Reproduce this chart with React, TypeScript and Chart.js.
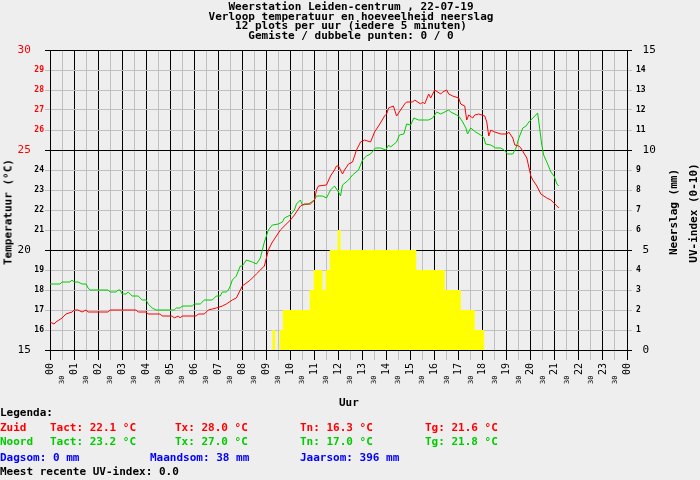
import { useEffect, useRef } from "react";
import { Chart, registerables } from "chart.js";
Chart.register(...registerables);

// minutes since midnight, temperature in °C
const zuidTimes = [
  0, 10, 15, 30, 40, 55, 60, 70, 80, 90, 95, 145, 150, 215, 220, 240, 245, 275, 280, 305,
  310, 320, 325, 330, 365, 370, 385, 390, 395, 415, 430, 440, 455, 465, 470, 480, 500, 515,
  525, 535, 540, 545, 555, 565, 575, 600, 610, 625, 635, 650, 660, 665, 670, 690, 700, 710,
  715, 720, 730, 735, 745, 755, 765, 775, 785, 800, 810, 820, 835, 840, 845, 857, 865, 875,
  885, 890, 905, 910, 925, 930, 935, 945, 950, 960, 975, 980, 990, 995, 1005, 1020, 1025,
  1035, 1040, 1045, 1055, 1060, 1070, 1085, 1090, 1095, 1100, 1110, 1125, 1140, 1145, 1155,
  1160, 1170, 1175, 1190, 1200, 1205, 1215, 1225, 1240, 1250, 1260, 1270,
];
const zuidTemps = [
  16.4, 16.3, 16.4, 16.6, 16.8, 16.9, 17.0, 17.0, 16.9, 17.0, 16.9, 16.9, 17.0, 17.0, 16.9,
  16.9, 16.8, 16.8, 16.7, 16.7, 16.6, 16.7, 16.6, 16.7, 16.7, 16.8, 16.8, 16.9, 17.0, 17.1,
  17.2, 17.3, 17.5, 17.6, 17.8, 18.2, 18.5, 18.8, 19.0, 19.2, 19.6, 20.0, 20.4, 20.7, 21.0,
  21.5, 21.75, 22.2, 22.3, 22.3, 22.5, 23.0, 23.2, 23.25, 23.7, 24.0, 24.2, 24.2, 23.8, 24.0,
  24.3, 24.4, 25.0, 25.4, 25.5, 25.4, 25.9, 26.2, 26.7, 26.8, 27.1, 27.2, 26.7, 27.0, 27.3,
  27.4, 27.4, 27.5, 27.3, 27.4, 27.3, 27.8, 27.6, 28.0, 27.8, 27.9, 28.0, 27.8, 27.7, 27.6,
  27.3, 27.2, 26.5, 26.75, 26.6, 26.75, 26.8, 26.7, 26.4, 25.7, 26.0, 25.9, 25.8, 25.8, 25.9,
  25.6, 25.25, 25.2, 25.1, 24.6, 23.7, 23.5, 23.2, 22.8, 22.6, 22.5, 22.3, 22.1,
];

const noordTimes = [
  0, 25, 30, 50, 55, 60, 70, 80, 90, 95, 100, 145, 150, 165, 170, 175, 180, 190, 195, 205,
  220, 230, 240, 245, 255, 265, 310, 315, 325, 330, 355, 360, 375, 385, 405, 415, 425, 430,
  440, 445, 450, 455, 465, 475, 480, 490, 505, 515, 525, 535, 540, 545, 555, 570, 580, 585,
  600, 610, 615, 625, 630, 645, 660, 665, 680, 690, 700, 710, 720, 725, 730, 745, 755, 770,
  780, 790, 800, 812, 825, 838, 845, 850, 865, 872, 883, 890, 900, 908, 920, 935, 945, 955,
  965, 975, 995, 1000, 1015, 1020, 1030, 1038, 1042, 1050, 1062, 1075, 1083, 1087, 1100,
  1112, 1125, 1133, 1142, 1155, 1163, 1170, 1180, 1188, 1195, 1205, 1210, 1217, 1220, 1227,
  1232, 1242, 1250, 1258, 1265, 1270,
];
const noordTemps = [
  18.3, 18.3, 18.4, 18.4, 18.5, 18.4, 18.4, 18.3, 18.3, 18.1, 18.0, 18.0, 17.9, 17.9, 18.0,
  18.0, 17.8, 17.8, 17.9, 17.7, 17.7, 17.5, 17.5, 17.3, 17.1, 17.0, 17.0, 17.1, 17.1, 17.2,
  17.2, 17.3, 17.3, 17.5, 17.5, 17.7, 17.7, 17.9, 17.9, 18.0, 18.2, 18.5, 18.7, 19.2, 19.2,
  19.5, 19.4, 19.3, 19.6, 20.4, 20.7, 21.0, 21.25, 21.3, 21.4, 21.6, 21.75, 22.0, 22.3, 22.5,
  22.25, 22.3, 22.5, 22.7, 22.7, 22.6, 23.0, 23.2, 22.9, 22.7, 23.25, 23.5, 23.75, 24.0, 24.5,
  24.7, 24.8, 25.1, 25.1, 25.0, 25.25, 25.15, 25.4, 25.75, 25.8, 26.3, 26.25, 26.6, 26.5,
  26.5, 26.5, 26.6, 26.9, 26.8, 27.0, 26.9, 26.75, 26.7, 26.4, 26.1, 25.8, 26.1, 25.9, 25.75,
  25.6, 25.3, 25.25, 25.1, 25.1, 25.0, 24.8, 24.8, 25.1, 25.6, 26.1, 26.2, 26.4, 26.6, 26.7,
  26.85, 26.4, 25.3, 24.75, 24.3, 23.9, 23.7, 23.3, 23.2,
];

// UV-index, each level holds from its start minute until the next one
const uvTimes = [0, 555, 562, 573, 581, 648, 658, 680, 688, 698, 718, 725, 914, 985, 1025, 1060, 1084];
const uvLevels = [0, 1, 0, 1, 2, 3, 4, 3, 4, 5, 6, 5, 4, 3, 2, 1, 0];

const hourLabels = [
  "00", "01", "02", "03", "04", "05", "06", "07", "08", "09", "10", "11", "12",
  "13", "14", "15", "16", "17", "18", "19", "20", "21", "22", "23", "00",
];

const titleLines = [
  "Weerstation Leiden-centrum , 22-07-19",
  "Verloop temperatuur en hoeveelheid neerslag",
  "12 plots per uur (iedere 5 minuten)",
  "Gemiste / dubbele punten: 0 / 0",
];

const stations = ["Zuid", "Noord"];
const stationColors = ["#ff0000", "#00cc00"];
const tact = ["22.1", "23.2"];
const tx = ["28.0", "27.0"];
const tn = ["16.3", "17.0"];
const tg = ["21.6", "21.8"];
const rainDay = "0";
const rainMonth = "38";
const rainYear = "396";
const uvRecent = "0.0";

const MONO = "DejaVu Sans Mono";
const GRAY = "#c0c0c0";

function WeatherChart() {
  const chartRef = useRef<HTMLCanvasElement | null>(null);
  const chartInstance = useRef<Chart | null>(null);

  useEffect(() => {
    const ctx = chartRef.current?.getContext("2d");
    if (chartInstance.current) {
      chartInstance.current.destroy();
    }
    if (ctx) {
      chartInstance.current = new Chart(ctx, {
        type: "line",
        data: {
          datasets: [
            {
              label: "Zuid",
              data: zuidTimes.map((t, i) => ({ x: t, y: zuidTemps[i] })),
              borderColor: "#ff0000",
              borderWidth: 1,
              pointRadius: 0,
              yAxisID: "y",
            },
            {
              label: "Noord",
              data: noordTimes.map((t, i) => ({ x: t, y: noordTemps[i] })),
              borderColor: "#00cc00",
              borderWidth: 1,
              pointRadius: 0,
              yAxisID: "y",
            },
            {
              label: "UV",
              data: uvTimes.map((t, i) => ({ x: t, y: uvLevels[i] })),
              // chart.js "before": the value of a point is kept until the next point
              stepped: "before",
              fill: "origin",
              backgroundColor: "#ffff00",
              borderColor: "#ffff00",
              borderWidth: 0,
              pointRadius: 0,
              yAxisID: "y2",
            },
          ],
        },
        options: {
          animation: false,
          responsive: true,
          maintainAspectRatio: false,
          layout: { padding: { top: 50, left: 0, right: 0, bottom: 0 } },
          plugins: {
            legend: { display: false },
            tooltip: { enabled: false },
          },
          scales: {
            x: {
              type: "linear",
              min: 0,
              max: 1440,
              afterFit: (scale: any) => {
                scale.height = 130;
              },
              grid: {
                color: (c: any) => (c.tick && c.tick.value % 60 === 0 ? "#000" : GRAY),
                tickLength: 10,
              },
              border: { color: "#000" },
              ticks: {
                stepSize: 30,
                autoSkip: false,
                minRotation: 90,
                maxRotation: 90,
                padding: 3,
                color: "#000",
                font: (c: any) =>
                  c.tick && c.tick.value % 60 === 0
                    ? { family: MONO, size: 10 }
                    : { family: MONO, size: 7 },
                callback: (v: any) => {
                  const n = Number(v);
                  return n % 60 === 0 ? hourLabels[n / 60] : "30   ";
                },
              },
            },
            y: {
              position: "left",
              min: 15,
              max: 30,
              afterFit: (scale: any) => {
                scale.width = 50;
              },
              grid: {
                color: (c: any) => (c.tick && c.tick.value % 5 === 0 ? "#000" : GRAY),
                tickLength: 5,
              },
              border: { color: "#000" },
              ticks: {
                stepSize: 1,
                padding: 1,
                color: (c: any) => (c.tick && c.tick.value >= 25 ? "#ff0000" : "#000"),
                font: (c: any) =>
                  c.tick && c.tick.value % 5 === 0
                    ? { family: MONO, size: 11 }
                    : { family: MONO, size: 8, weight: "bold" },
                callback: (v: any) => (Number(v) % 5 === 0 ? v + "  " : String(v)),
              },
            },
            y2: {
              position: "right",
              min: 0,
              max: 15,
              afterFit: (scale: any) => {
                scale.width = 73;
              },
              grid: {
                drawOnChartArea: false,
                color: (c: any) => (c.tick && c.tick.value % 5 === 0 ? "#000" : GRAY),
                tickLength: 5,
              },
              border: { color: "#000" },
              ticks: {
                stepSize: 1,
                padding: 4,
                color: "#000",
                font: (c: any) =>
                  c.tick && c.tick.value % 5 === 0
                    ? { family: MONO, size: 11 }
                    : { family: MONO, size: 8, weight: "bold" },
                callback: (v: any) => (Number(v) % 5 === 0 ? " " + v : String(v)),
              },
            },
          },
        },
      });
    }
    return () => {
      if (chartInstance.current) {
        chartInstance.current.destroy();
        chartInstance.current = null;
      }
    };
  }, []);

  return <canvas ref={chartRef} />;
}

const txt: React.CSSProperties = {
  position: "absolute",
  fontFamily: MONO,
  fontWeight: "bold",
  fontSize: 11,
  lineHeight: "11px",
  whiteSpace: "pre",
};

function Vertical({ x, y, text }: { x: number; y: number; text: string }) {
  return (
    <div style={{ ...txt, left: x, top: y, transform: "translate(-50%, -50%) rotate(-90deg)" }}>
      {text}
    </div>
  );
}

export default function App() {
  const rowTops = [422, 436];
  return (
    <div
      style={{
        position: "fixed",
        left: 0,
        top: 0,
        width: 700,
        height: 480,
        background: "#eeeeee",
        overflow: "hidden",
      }}
    >
      <div style={{ position: "absolute", left: 0, top: 0, width: 700, height: 480 }}>
        <WeatherChart />
      </div>
      <div
        style={{
          ...txt,
          left: 0,
          top: 2,
          width: 702,
          textAlign: "center",
          lineHeight: "9.7px",
          color: "#000",
        }}
      >
        {titleLines.map((l) => (
          <div key={l}>{l}</div>
        ))}
      </div>
      <Vertical x={8} y={212} text="Temperatuur (°C)" />
      <Vertical x={673} y={212} text="Neerslag (mm)" />
      <Vertical x={693} y={213} text="UV-index (0-10)" />
      <div style={{ ...txt, left: 339, top: 397 }}>Uur</div>
      <div style={{ ...txt, left: 0, top: 407 }}>Legenda:</div>
      {stations.map((s, i) => (
        <div key={s} style={{ color: stationColors[i] }}>
          <div style={{ ...txt, left: 0, top: rowTops[i] }}>{s}</div>
          <div style={{ ...txt, left: 50, top: rowTops[i] }}>{`Tact: ${tact[i]} °C`}</div>
          <div style={{ ...txt, left: 175, top: rowTops[i] }}>{`Tx: ${tx[i]} °C`}</div>
          <div style={{ ...txt, left: 300, top: rowTops[i] }}>{`Tn: ${tn[i]} °C`}</div>
          <div style={{ ...txt, left: 425, top: rowTops[i] }}>{`Tg: ${tg[i]} °C`}</div>
        </div>
      ))}
      <div style={{ color: "#0000ff" }}>
        <div style={{ ...txt, left: 0, top: 452 }}>{`Dagsom: ${rainDay} mm`}</div>
        <div style={{ ...txt, left: 150, top: 452 }}>{`Maandsom: ${rainMonth} mm`}</div>
        <div style={{ ...txt, left: 300, top: 452 }}>{`Jaarsom: ${rainYear} mm`}</div>
      </div>
      <div style={{ ...txt, left: 0, top: 466 }}>{`Meest recente UV-index: ${uvRecent}`}</div>
    </div>
  );
}
